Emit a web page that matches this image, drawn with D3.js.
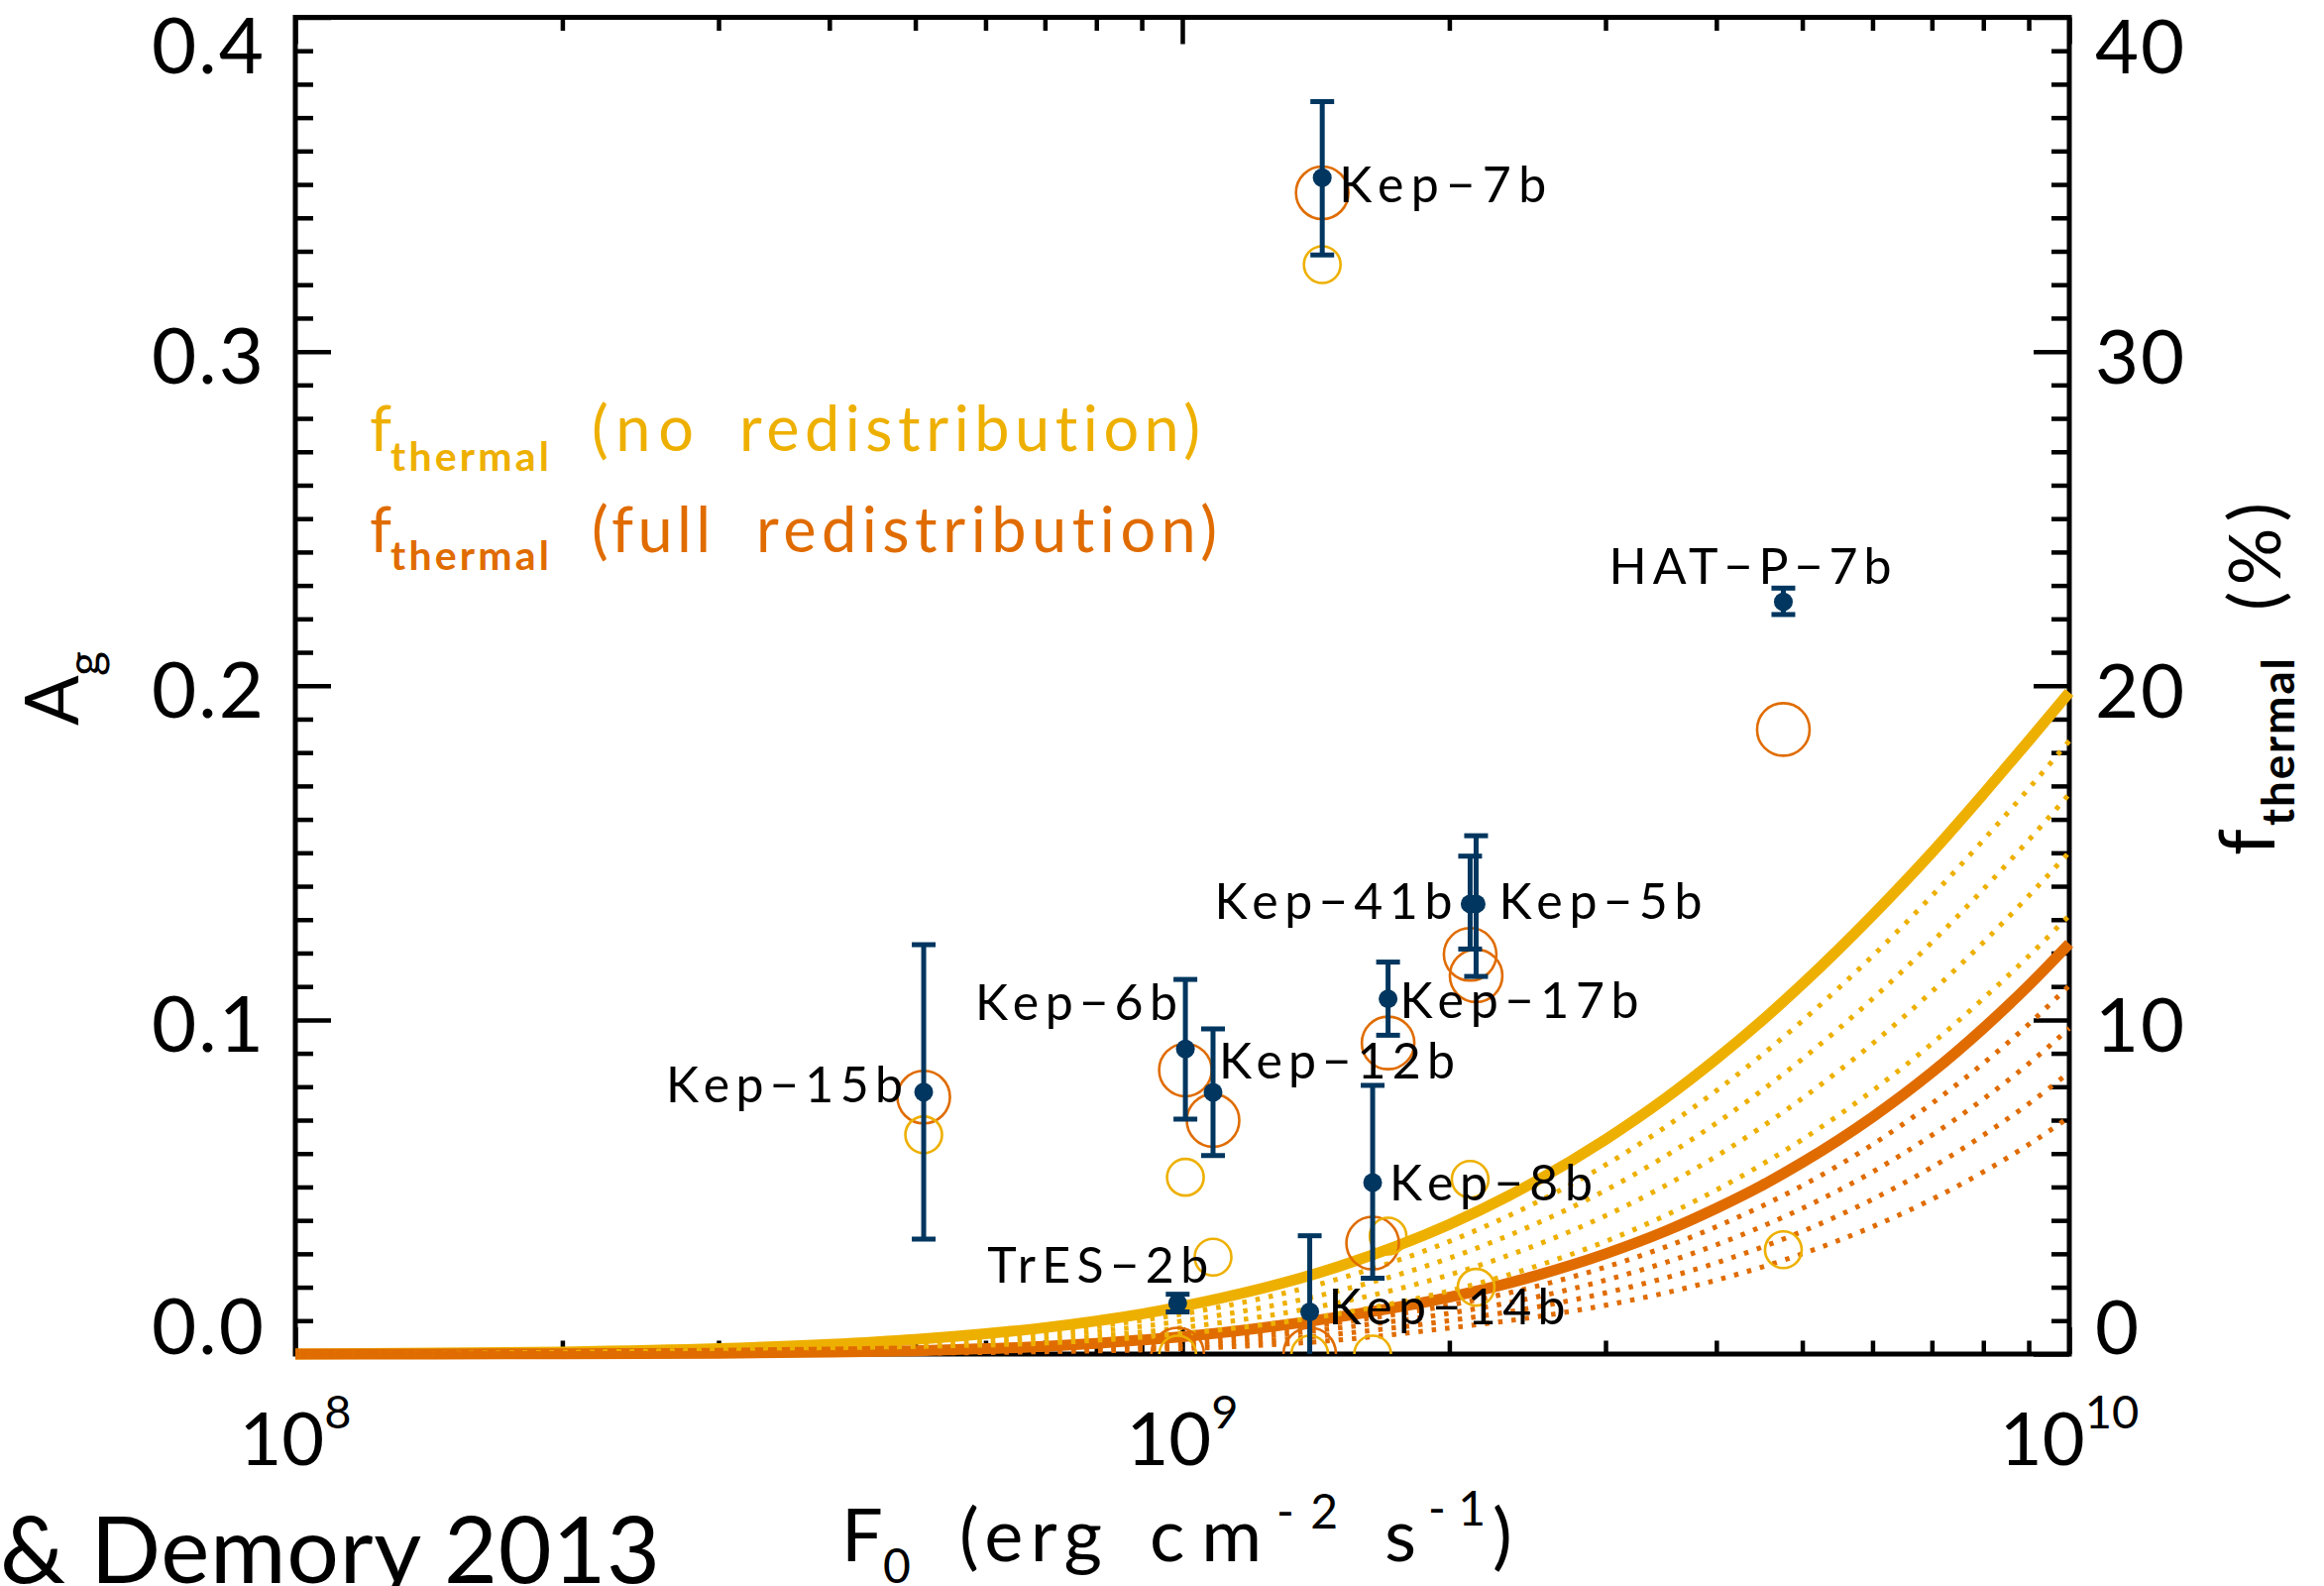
<!DOCTYPE html>
<html><head><meta charset="utf-8">
<script src="https://cdn.jsdelivr.net/npm/d3@7"></script>
<style>
body{margin:0;background:#fff}
svg{display:block}
text{font-family:Lato,"DejaVu Sans",sans-serif;font-variant-ligatures:none;font-feature-settings:"liga" 0,"clig" 0}
</style>
</head><body>
<svg id="chart" width="2345" height="1600"></svg>
<script>
// ---------------- data ----------------
const planets    = ["Kep\u22127b","HAT\u2212P\u22127b","Kep\u221241b","Kep\u22125b","Kep\u221217b","Kep\u22126b","Kep\u221212b","Kep\u221215b","Kep\u22128b","TrES\u22122b","Kep\u221214b"];
const flux       = [1.438e9, 4.76e9, 2.111e9, 2.144e9, 1.706e9, 1.008e9, 1.083e9, 5.11e8, 1.639e9, 9.88e8, 1.392e9];
const albedo     = [0.352, 0.2251, 0.1347, 0.1347, 0.1063, 0.0913, 0.0783, 0.0784, 0.0513, 0.0152, 0.0126];
const albedoLow  = [0.3289, 0.2213, 0.1212, 0.113, 0.0954, 0.0703, 0.0594, 0.0344, 0.0227, 0.0126, -0.02];
const albedoHigh = [0.3748, 0.2292, 0.149, 0.1551, 0.1173, 0.1121, 0.0973, 0.1225, 0.0804, 0.0179, 0.0354];
const fThermFull = [34.75, 18.69, 11.96, 11.32, 9.31, 8.5, 6.99, 7.69, 3.32, 0.0, 0.0];   // %
const fThermNo   = [32.6, 3.12, 5.23, 2.0, 3.53, 5.29, 2.9, 6.56, 0.0, 0.0, 0.0];        // %

const solidFlux = [0.1,0.2,0.3,0.4,0.5,0.6,0.7,0.8,0.9,1,1.5,2,2.5,3,3.5,4,4.5,5,6,7,8,9,10]; // x 1e9
const noRedistSolid   = [0,0.06,0.16,0.29,0.44,0.61,0.79,0.99,1.2,1.43,2.62,3.88,5.16,6.42,7.64,8.83,9.97,11.07,13.13,15.01,16.76,18.35,19.8];
const fullRedistSolid = [0,0.006,0.025,0.06,0.1,0.16,0.23,0.32,0.42,0.52,1.11,1.70,2.34,3.0,3.67,4.36,5.04,5.73,7.09,8.43,9.75,11.03,12.28];

const dottedFlux = [0.1,0.2,0.3,0.5,0.7,1,1.5,2,2.5,3,4,5,6,7,8,9,10]; // x 1e9
const noRedistDotted1 = [0,0.05,0.13,0.36,0.66,1.2,2.25,3.37,4.52,5.66,7.88,9.97,11.91,13.71,15.38,16.92,18.35];
const noRedistDotted2 = [0,0.04,0.10,0.29,0.54,0.99,1.89,2.87,3.89,4.90,6.91,8.83,10.63,12.32,13.91,15.38,16.76];
const noRedistDotted3 = [0,0.03,0.08,0.22,0.42,0.79,1.54,2.37,3.25,4.14,5.92,7.65,9.29,10.85,12.32,13.71,15.02];
const noRedistDotted4 = [0,0.02,0.05,0.16,0.32,0.61,1.21,1.89,2.62,3.37,4.91,6.42,7.88,9.29,10.64,11.91,13.13];
const fullRedistDotted1 = [0,0.005,0.019,0.08,0.18,0.43,0.94,1.46,2.02,2.60,3.81,5.04,6.27,7.50,8.70,9.87,11.03];
const fullRedistDotted2 = [0,0.004,0.014,0.06,0.135,0.32,0.78,1.22,1.70,2.21,3.27,4.36,5.45,6.55,7.63,8.69,9.75];
const fullRedistDotted3 = [0,0.003,0.008,0.04,0.095,0.23,0.60,1.00,1.40,1.83,2.73,3.67,4.63,5.59,6.55,7.49,8.43];
const fullRedistDotted4 = [0,0.002,0.005,0.025,0.07,0.16,0.42,0.78,1.11,1.46,2.21,3.00,3.81,4.63,5.45,6.27,7.09];

const yTickValues = [0, 0.1, 0.2, 0.3, 0.4];
const yTickLabels = ["0.0","0.1","0.2","0.3","0.4"];
const rTickValues = [0, 10, 20, 30, 40];
const rTickLabels = ["0","10","20","30","40"];
const xTickValues = [1e8, 1e9, 1e10];
const xTickExps   = ["8","9","10"];

// ---------------- layout ----------------
const L = 298, R = 2088, T = 17.5, B = 1366;
const YELLOW = "#eeb000", ORANGE = "#e06c00", NAVY = "#00365f";
// label layout per planet (same order as planets): [dx, dy, anchor, textLength]
const labelLayout = [
  [17, 25, "start", 209],     // Kep-7b
  [-176, -18, "start", 285],  // HAT-P-7b
  [-18, 15, "end", 240],      // Kep-41b
  [23, 15, "start", 205],     // Kep-5b
  [12, 19.5, "start", 241],   // Kep-17b
  [-8, -29.5, "end", 204],    // Kep-6b
  [6, -14, "start", 238],     // Kep-12b
  [-21, 10, "end", 239],      // Kep-15b
  [17, 18, "start", 205],     // Kep-8b
  [31, -20.5, "end", 223],    // TrES-2b
  [19, 12.5, "start", 239]    // Kep-14b
];

const svg = d3.select("#chart");
const x = d3.scaleLog().domain([1e8, 1e10]).range([L, R]);
const y = d3.scaleLinear().domain([0, 0.4]).range([B, T]);
const yR = d3.scaleLinear().domain([0, 40]).range([B, T]);

svg.append("defs").append("clipPath").attr("id","plotclip")
  .append("rect").attr("x",L).attr("y",T).attr("width",R-L).attr("height",B-T);

// ---------------- axes ----------------
const tickW = 4.5;
const minorY = d3.range(0, 41).map(i => i/100).filter(v => Math.round(v*100) % 10 !== 0);
const minorX = [];
[1e8, 1e9].forEach(d => { for (let k = 2; k <= 9; k++) minorX.push(k*d); });

function styleAxis(g){ g.select(".domain").remove(); g.selectAll("line").attr("stroke","#000").attr("stroke-width",tickW); g.selectAll("text").remove(); }

svg.append("g").attr("transform",`translate(${L},0)`).call(d3.axisLeft(y).tickValues(yTickValues).tickSize(-36).tickFormat("")).call(styleAxis);
svg.append("g").attr("transform",`translate(${L},0)`).call(d3.axisLeft(y).tickValues(minorY).tickSize(-18).tickFormat("")).call(styleAxis);
svg.append("g").attr("transform",`translate(${R},0)`).call(d3.axisRight(yR).tickValues(rTickValues).tickSize(-36).tickFormat("")).call(styleAxis);
svg.append("g").attr("transform",`translate(${R},0)`).call(d3.axisRight(y).tickValues(minorY).tickSize(-18).tickFormat("")).call(styleAxis);
svg.append("g").attr("transform",`translate(0,${B})`).call(d3.axisBottom(x).tickValues(xTickValues).tickSize(-27).tickFormat("")).call(styleAxis);
svg.append("g").attr("transform",`translate(0,${B})`).call(d3.axisBottom(x).tickValues(minorX).tickSize(-13.5).tickFormat("")).call(styleAxis);
svg.append("g").attr("transform",`translate(0,${T})`).call(d3.axisTop(x).tickValues(xTickValues).tickSize(-27).tickFormat("")).call(styleAxis);
svg.append("g").attr("transform",`translate(0,${T})`).call(d3.axisTop(x).tickValues(minorX).tickSize(-13.5).tickFormat("")).call(styleAxis);

svg.append("rect").attr("x",L).attr("y",T).attr("width",R-L).attr("height",B-T)
  .attr("fill","none").attr("stroke","#000").attr("stroke-width",5);

// tick labels
const capH = 56;
function labelBaseline(py){
  if (Math.abs(py - T) < 1) return T + capH;
  if (Math.abs(py - B) < 1) return B;
  return py + capH/2 + 4;
}
svg.append("g").selectAll("text").data(yTickValues).join("text")
  .attr("x", 268).attr("y", d => labelBaseline(y(d)))
  .attr("text-anchor","end").attr("font-size",78).attr("letter-spacing",2)
  .text((d,i) => yTickLabels[i]);
svg.append("g").selectAll("text").data(rTickValues).join("text")
  .attr("x", 2114).attr("y", d => labelBaseline(yR(d)))
  .attr("text-anchor","start").attr("font-size",76).attr("letter-spacing",2)
  .text((d,i) => rTickLabels[i]);
const xt = svg.append("g").selectAll("text").data(xTickValues).join("text")
  .attr("x", d => x(d)).attr("y", 1478).attr("text-anchor","middle").attr("font-size",74);
xt.append("tspan").text("10");
xt.append("tspan").attr("dy",-37).attr("font-size",47).text((d,i) => xTickExps[i]);

// ---------------- curves ----------------
const line = d3.line().curve(d3.curveMonotoneX);
function curvePts(fl, vals){ return fl.map((f,i) => [x(f*1e9), yR(vals[i])]); }
const curves = svg.append("g");
curves.append("path").attr("d", line(curvePts(solidFlux, noRedistSolid)))
  .attr("fill","none").attr("stroke",YELLOW).attr("stroke-width",11);
curves.append("path").attr("d", line(curvePts(solidFlux, fullRedistSolid)))
  .attr("fill","none").attr("stroke",ORANGE).attr("stroke-width",11);
[noRedistDotted1,noRedistDotted2,noRedistDotted3,noRedistDotted4].forEach(v => {
  curves.append("path").attr("d", line(curvePts(dottedFlux, v)))
    .attr("fill","none").attr("stroke",YELLOW).attr("stroke-width",5).attr("stroke-dasharray","4.5,9");
});
[fullRedistDotted1,fullRedistDotted2,fullRedistDotted3,fullRedistDotted4].forEach(v => {
  curves.append("path").attr("d", line(curvePts(dottedFlux, v)))
    .attr("fill","none").attr("stroke",ORANGE).attr("stroke-width",5).attr("stroke-dasharray","4.5,9");
});

// ---------------- data marks ----------------
const dg = svg.append("g").attr("clip-path","url(#plotclip)");
const idx = d3.range(planets.length);
dg.selectAll("circle.full").data(idx).join("circle").attr("class","full")
  .attr("cx", i => x(flux[i])).attr("cy", i => yR(fThermFull[i])).attr("r",26.5)
  .attr("fill","none").attr("stroke",ORANGE).attr("stroke-width",2.6);
dg.selectAll("circle.no").data(idx).join("circle").attr("class","no")
  .attr("cx", i => x(flux[i])).attr("cy", i => yR(fThermNo[i])).attr("r",18.5)
  .attr("fill","none").attr("stroke",YELLOW).attr("stroke-width",2.6);
dg.selectAll("line.err").data(idx).join("line").attr("class","err")
  .attr("x1", i => x(flux[i])).attr("x2", i => x(flux[i]))
  .attr("y1", i => y(albedoLow[i])).attr("y2", i => y(albedoHigh[i]))
  .attr("stroke",NAVY).attr("stroke-width",5);
dg.selectAll("line.capH").data(idx).join("line").attr("class","capH")
  .attr("x1", i => x(flux[i]) - 12).attr("x2", i => x(flux[i]) + 12)
  .attr("y1", i => y(albedoHigh[i])).attr("y2", i => y(albedoHigh[i]))
  .attr("stroke",NAVY).attr("stroke-width",5);
dg.selectAll("line.capL").data(idx).join("line").attr("class","capL")
  .attr("x1", i => x(flux[i]) - 12).attr("x2", i => x(flux[i]) + 12)
  .attr("y1", i => y(albedoLow[i])).attr("y2", i => y(albedoLow[i]))
  .attr("stroke",NAVY).attr("stroke-width",5);
dg.selectAll("circle.pt").data(idx).join("circle").attr("class","pt")
  .attr("cx", i => x(flux[i])).attr("cy", i => y(albedo[i])).attr("r",9.5)
  .attr("fill",NAVY);

svg.append("g").selectAll("text").data(idx).join("text")
  .attr("x", i => x(flux[i]) + labelLayout[i][0])
  .attr("y", i => y(albedo[i]) + labelLayout[i][1])
  .attr("text-anchor", i => labelLayout[i][2])
  .attr("textLength", i => labelLayout[i][3]).attr("lengthAdjust","spacing")
  .attr("font-size",50).attr("fill","#000")
  .text(i => planets[i]);

// ---------------- legend ----------------
const leg = svg.append("g");
const legendRows = [
  {color: YELLOW, by: 455, sy: 475, words: [["(no", 597, 103], ["redistribution)", 746, 465]]},
  {color: ORANGE, by: 557, sy: 575, words: [["(full", 597, 120], ["redistribution)", 763, 465]]}
];
legendRows.forEach(r => {
  leg.append("text").attr("x",373).attr("y",r.by).attr("font-size",63).attr("fill",r.color).text("f");
  leg.append("text").attr("x",394).attr("y",r.sy).attr("font-size",41).attr("font-weight",700).attr("fill",r.color)
    .attr("textLength",160).attr("lengthAdjust","spacing").text("thermal");
  r.words.forEach(([t, wx, wl]) => {
    leg.append("text").attr("x",wx).attr("y",r.by).attr("font-size",63).attr("fill",r.color)
      .attr("textLength",wl).attr("lengthAdjust","spacing").text(t);
  });
});

// ---------------- axis titles ----------------
const xtitle = svg.append("g");
xtitle.append("text").attr("x",849).attr("y",1575).attr("font-size",74).text("F");
xtitle.append("text").attr("x",891).attr("y",1597).attr("font-size",48).text("0");
xtitle.append("text").attr("x",968).attr("y",1575).attr("font-size",74)
  .attr("textLength",144).attr("lengthAdjust","spacing").text("(erg");
xtitle.append("text").attr("x",1160).attr("y",1575).attr("font-size",74)
  .attr("textLength",113).attr("lengthAdjust","spacing").text("cm");
xtitle.append("text").attr("x",1288).attr("y",1542).attr("font-size",48)
  .attr("textLength",62).attr("lengthAdjust","spacing").text("-2");
xtitle.append("text").attr("x",1397).attr("y",1575).attr("font-size",74).text("s");
xtitle.append("text").attr("x",1441).attr("y",1539).attr("font-size",48)
  .attr("textLength",58).attr("lengthAdjust","spacing").text("-1");
xtitle.append("text").attr("x",1506).attr("y",1575).attr("font-size",74).text(")");

const ytitle = svg.append("g").attr("transform","translate(79,732) rotate(-90)");
ytitle.append("text").attr("x",0).attr("y",0).attr("font-size",75).text("A");
ytitle.append("text").attr("x",50).attr("y",23).attr("font-size",48).text("g");

const rtitle = svg.append("g").attr("transform","translate(2295,863) rotate(-90)");
rtitle.append("text").attr("x",0).attr("y",0).attr("font-size",77).text("f");
rtitle.append("text").attr("x",30).attr("y",20).attr("font-size",46).attr("font-weight",700)
  .attr("textLength",169).attr("lengthAdjust","spacing").text("thermal");
rtitle.append("text").attr("x",247).attr("y",6).attr("font-size",72)
  .attr("textLength",109).attr("lengthAdjust","spacing").text("(%)");

svg.append("text").attr("x",0).attr("y",1597).attr("font-size",93)
  .attr("textLength",666).attr("lengthAdjust","spacing").text("& Demory 2013");
</script>
</body></html>
